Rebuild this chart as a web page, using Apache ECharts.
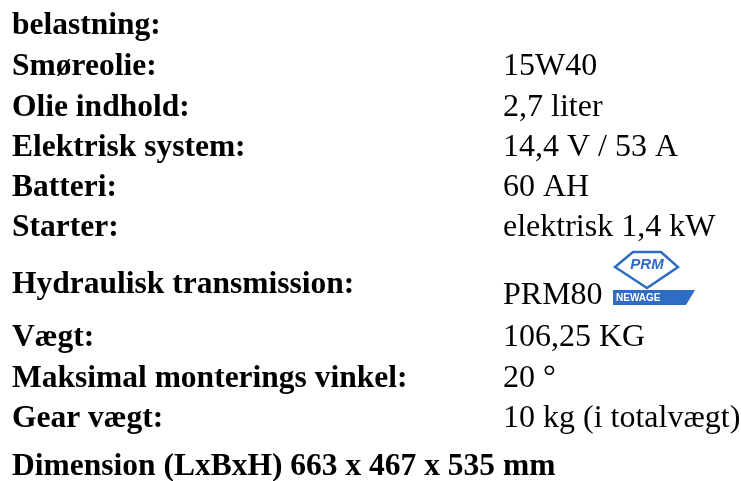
<!DOCTYPE html>
<html>
<head>
<meta charset="utf-8">
<script src="https://cdn.jsdelivr.net/npm/echarts@6/dist/echarts.min.js"></script>
<style>html,body{margin:0;padding:0;background:#fff}#c{width:741px;height:481px}</style>
</head>
<body>
<div id="c"></div>
<script>
// Spec labels (left column) and values (right column)
const labels = ["belastning:", "Smøreolie:", "Olie indhold:", "Elektrisk system:", "Batteri:", "Starter:", "Hydraulisk transmission:", "Vægt:", "Maksimal monterings vinkel:", "Gear vægt:"];
const values = ["", "15W40", "2,7 liter", "14,4 V / 53 A", "60 AH", "elektrisk 1,4 kW", "PRM80", "106,25 KG", "20 °", "10 kg (i totalvægt)"];
const footer = "Dimension (LxBxH) 663 x 467 x 535 mm";
const logoTop = "PRM";
const logoBottom = "NEWAGE";

// layout (text vertical centres)
const labelY = [26, 67, 108, 148, 188, 228, 285, 338, 379, 419];
const valueY = [26, 67, 108, 148, 188, 228, 296, 338, 379, 419];
const footerY = 467;
const FONT = '"Liberation Serif", "Times New Roman", serif';
const BOLD = 'bold 31.5px ' + FONT;
const REG = '32px ' + FONT;
const BLUE = '#2f6cc4';

const els = [];
labels.forEach((t, i) => {
  els.push({type: 'text', style: {text: t, x: 12, y: labelY[i], fill: '#000', font: BOLD, verticalAlign: 'middle', align: 'left'}});
});
values.forEach((t, i) => {
  if (!t) return;
  els.push({type: 'text', style: {text: t, x: 503, y: valueY[i], fill: '#000', font: REG, verticalAlign: 'middle', align: 'left'}});
});
els.push({type: 'text', style: {text: footer, x: 12, y: footerY, fill: '#000', font: BOLD, verticalAlign: 'middle', align: 'left'}});

// PRM NEWAGE logo
els.push({type: 'polygon', shape: {points: [[615, 267], [633, 252], [661, 252], [678, 267], [647, 288]]}, style: {fill: '#fff', stroke: BLUE, lineWidth: 2.5, lineJoin: 'miter'}});
els.push({type: 'text', style: {text: logoTop, x: 647, y: 265, fill: BLUE, font: 'italic bold 15px "Liberation Sans", Arial, sans-serif', align: 'center', verticalAlign: 'middle'}});
els.push({type: 'polygon', shape: {points: [[613, 290], [695, 290], [686, 305], [613, 305]]}, style: {fill: BLUE}});
els.push({type: 'text', style: {text: logoBottom, x: 616, y: 298, fill: '#fff', font: 'bold 10px "Liberation Sans", Arial, sans-serif', align: 'left', verticalAlign: 'middle'}});

const chart = echarts.init(document.getElementById('c'), null, {renderer: 'canvas'});
chart.setOption({
  backgroundColor: '#fff',
  animation: false,
  graphic: {elements: els}
});
</script>
</body>
</html>
